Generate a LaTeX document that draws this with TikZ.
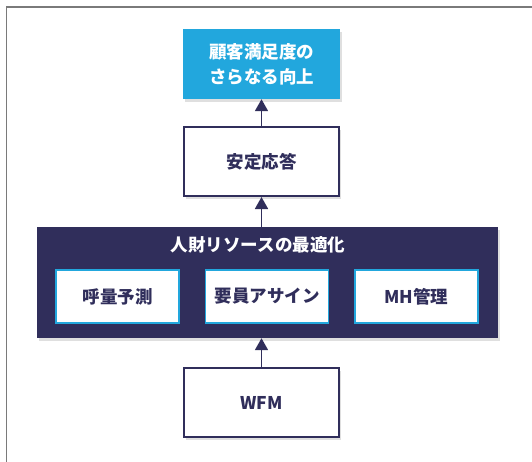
\documentclass[tikz,border=0pt]{standalone}
\usepackage{fontspec}
\setmainfont{Noto Sans CJK JP}
\usetikzlibrary{positioning,shadows,arrows.meta}
\definecolor{navy}{HTML}{302E5B}
\definecolor{skyblue}{HTML}{22A7DD}
\definecolor{framegray}{HTML}{7A7A7A}

\begin{document}
\begin{tikzpicture}[x=1pt,y=-1pt,
  shade/.style={drop shadow={shadow xshift=1.5pt,shadow yshift=-2.5pt,opacity=.25}},
  goalbox/.style={fill=skyblue,text=white,shade,minimum width=157pt,minimum height=70pt,align=center,
    font=\fontsize{17.5}{25}\selectfont\bfseries},
  stepbox/.style={draw=navy,line width=2pt,fill=white,text=navy,shade,minimum width=155pt,minimum height=69pt,
    font=\fontsize{17.5}{22}\selectfont\bfseries},
  panel/.style={fill=navy,shade,minimum width=461pt,minimum height=111pt,inner sep=0pt},
  subbox/.style={draw=skyblue,line width=1.2pt,fill=white,text=navy,minimum width=123pt,minimum height=53pt,
    font=\fontsize{17.5}{22}\selectfont\bfseries},
  arr/.style={-{Triangle[width=13pt,length=12pt]},line width=1.8pt,navy}]

  \useasboundingbox (0,0) rectangle (532,461);
  \clip (0,0) rectangle (532,461);
  % outer frame (right and bottom edges lie outside)
  \draw[framegray,line width=1.6pt] (6.5,7) rectangle (560,490);

  % goal and response
  \node[goalbox] (goal) at (261.5,64) {顧客満足度の\\さらなる向上};
  \node[stepbox] (resp) at (261.5,161.5) {安定応答};

  % resource optimisation panel
  \node[panel] (opt) at (267.5,282.5) {};
  \node[text=white,font=\fontsize{17.5}{22}\selectfont\bfseries] (opttitle) at (258,245) {人財リソースの最適化};
  \node[subbox] (forecast) at (117.5,296.5) {呼量予測};
  \node[subbox] (assign) at (267,296.5) {要員アサイン};
  \node[subbox] (mh) at (416.5,296.5) {MH管理};

  % base
  \node[stepbox] (wfm) at (261.5,402.5) {WFM};

  \draw[arr] (resp) -- (goal);
  \draw[arr] (opt.north -| resp) -- (resp);
  \draw[arr] (wfm) -- (wfm |- opt.south);
\end{tikzpicture}
\end{document}
